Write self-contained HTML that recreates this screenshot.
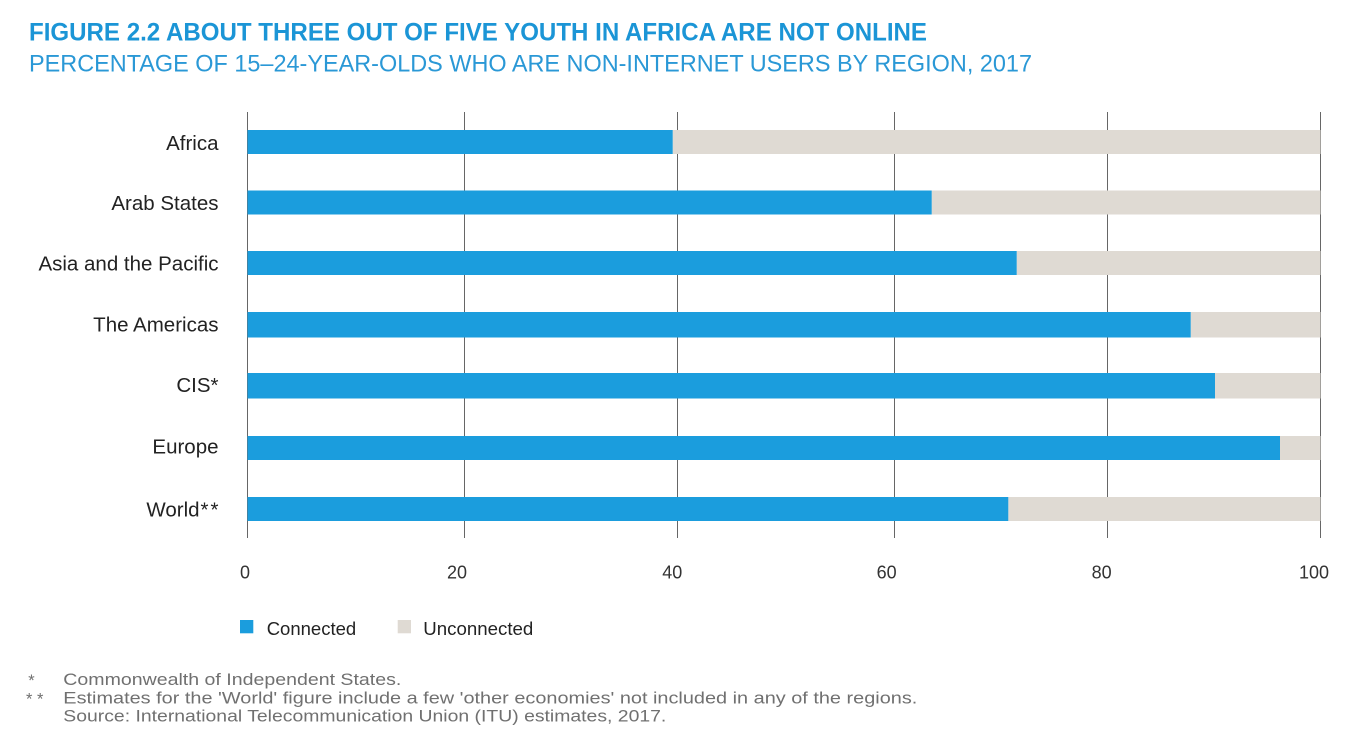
<!DOCTYPE html>
<html>
<head>
<meta charset="utf-8">
<style>
  html,body{margin:0;padding:0;background:#fff;}
  svg{display:block;}
  text{font-family:"Liberation Sans",Arial,sans-serif;}
</style>
</head>
<body>
<svg width="1352" height="752" viewBox="0 0 1352 752" xmlns="http://www.w3.org/2000/svg">
  <rect x="0" y="0" width="1352" height="752" fill="#ffffff"/>

  <!-- Titles -->
  <text x="29" y="40.7" font-size="25" font-weight="bold" fill="#1b95d6" textLength="898" lengthAdjust="spacingAndGlyphs">FIGURE 2.2 ABOUT THREE OUT OF FIVE YOUTH IN AFRICA ARE NOT ONLINE</text>
  <text x="29" y="71.7" font-size="24.5" fill="#2a98d6" textLength="1003" lengthAdjust="spacingAndGlyphs">PERCENTAGE OF 15–24-YEAR-OLDS WHO ARE NON-INTERNET USERS BY REGION, 2017</text>

  <!-- Grid lines -->
  <g stroke="#666" stroke-width="1">
    <line x1="247.5" y1="112" x2="247.5" y2="538"/>
    <line x1="464.5" y1="112" x2="464.5" y2="538"/>
    <line x1="677.5" y1="112" x2="677.5" y2="538"/>
    <line x1="894.5" y1="112" x2="894.5" y2="538"/>
    <line x1="1107.5" y1="112" x2="1107.5" y2="538"/>
    <line x1="1320.5" y1="112" x2="1320.5" y2="538"/>
  </g>

  <!-- Bars -->
  <g>
    <rect x="672.7" y="130" width="647.8" height="24" fill="#dfdad3"/>
    <rect x="247.5" y="130" width="425.2" height="24" fill="#1b9ddd"/>
    <rect x="931.7" y="190.5" width="388.8" height="24" fill="#dfdad3"/>
    <rect x="247.5" y="190.5" width="684.2" height="24" fill="#1b9ddd"/>
    <rect x="1016.7" y="251" width="303.8" height="24" fill="#dfdad3"/>
    <rect x="247.5" y="251" width="769.2" height="24" fill="#1b9ddd"/>
    <rect x="1190.7" y="312" width="129.8" height="25.5" fill="#dfdad3"/>
    <rect x="247.5" y="312" width="943.2" height="25.5" fill="#1b9ddd"/>
    <rect x="1215" y="373" width="105.5" height="25.5" fill="#dfdad3"/>
    <rect x="247.5" y="373" width="967.5" height="25.5" fill="#1b9ddd"/>
    <rect x="1280" y="436" width="40.5" height="24" fill="#dfdad3"/>
    <rect x="247.5" y="436" width="1032.5" height="24" fill="#1b9ddd"/>
    <rect x="1008.3" y="497" width="312.2" height="24" fill="#dfdad3"/>
    <rect x="247.5" y="497" width="760.8" height="24" fill="#1b9ddd"/>
  </g>

  <!-- Category labels -->
  <g font-size="20.5" fill="#222" text-anchor="end">
    <text x="218.5" y="150">Africa</text>
    <text x="218.5" y="210">Arab States</text>
    <text x="218.5" y="270.5">Asia and the Pacific</text>
    <text x="218.5" y="331.5">The Americas</text>
    <text x="218.5" y="392">CIS*</text>
    <text x="218.5" y="453.5">Europe</text>
    <text x="218.5" y="516.5">World<tspan dx="1">*</tspan><tspan dx="2">*</tspan></text>
  </g>

  <!-- Tick labels -->
  <g font-size="18" fill="#333" text-anchor="middle">
    <text x="245" y="578.3">0</text>
    <text x="457" y="578.3">20</text>
    <text x="672.3" y="578.3">40</text>
    <text x="886.7" y="578.3">60</text>
    <text x="1101.7" y="578.3">80</text>
    <text x="1314" y="578.3">100</text>
  </g>

  <!-- Legend -->
  <rect x="240" y="620" width="13.3" height="13.3" fill="#1b9ddd"/>
  <text x="266.7" y="635" font-size="18.5" fill="#222">Connected</text>
  <rect x="397.7" y="620" width="13.3" height="13.3" fill="#dfdad3"/>
  <text x="423.3" y="635" font-size="18.5" fill="#222" textLength="110" lengthAdjust="spacingAndGlyphs">Unconnected</text>

  <!-- Footnotes -->
  <g font-size="16.5" fill="#707070">
    <text x="28.3" y="686">*</text>
    <text x="63.3" y="685" textLength="338" lengthAdjust="spacingAndGlyphs">Commonwealth of Independent States.</text>
    <text x="26" y="704.3">* *</text>
    <text x="63.3" y="703.3" textLength="854" lengthAdjust="spacingAndGlyphs">Estimates for the 'World' figure include a few 'other economies' not included in any of the regions.</text>
    <text x="63.3" y="721.7" textLength="603" lengthAdjust="spacingAndGlyphs">Source: International Telecommunication Union (ITU) estimates, 2017.</text>
  </g>
</svg>
</body>
</html>
